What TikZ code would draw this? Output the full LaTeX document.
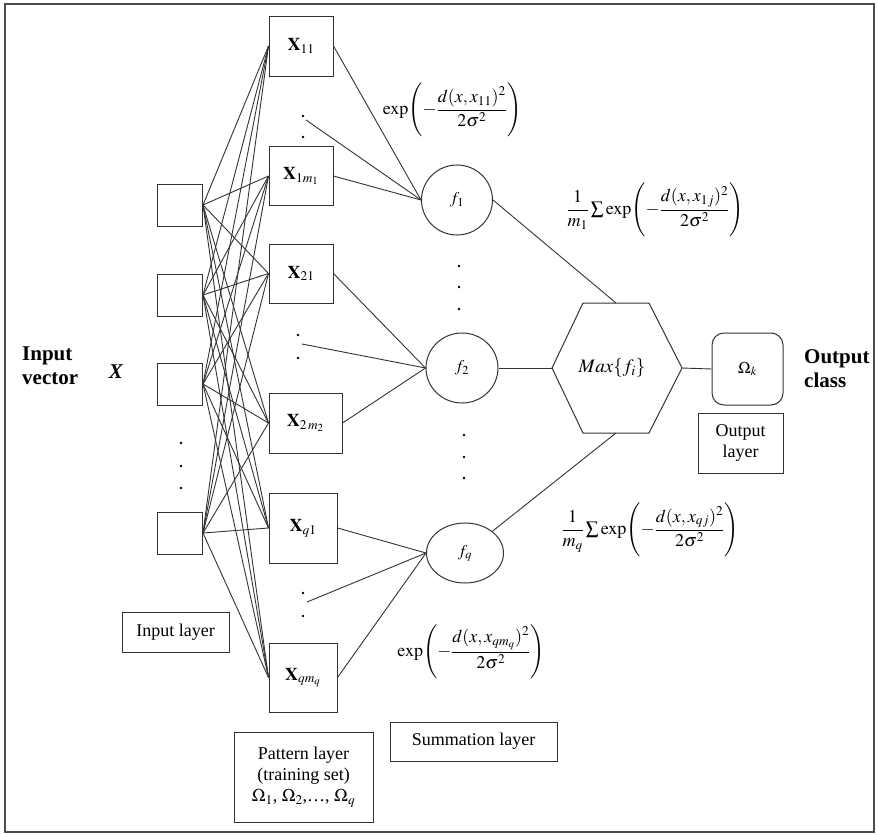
\documentclass[tikz,border=0pt]{standalone}
\usepackage{amsmath}
\usepackage{mathptmx}
\usepackage{fontspec}
\setmainfont{Liberation Serif}
\usetikzlibrary{shapes.geometric}
\newcommand\fsz[2]{\fontsize{#1}{#2}\selectfont}
\begin{document}
\begin{tikzpicture}[x=1pt,y=-1pt,
  conn/.style={draw=black!80,line width=0.9pt},
  inbox/.style={draw=black!80,line width=1pt,minimum width=45,minimum height=42,inner sep=0pt},
  pbox/.style={draw=black!80,line width=1pt,inner sep=0pt,font=\fsz{18}{20}},
  fnode/.style={ellipse,draw=black!80,line width=1pt,inner sep=0pt,font=\fsz{16.5}{18}},
  lbox/.style={draw=black!80,line width=1pt,inner sep=0pt,align=center,font=\fsz{18}{21}},
  formula/.style={inner sep=0pt,font=\fsz{18}{20}},
  dotn/.style={circle,fill=black,inner sep=0pt,minimum size=2.6pt},
  bigl/.style={inner sep=0pt,align=left,font=\fsz{21}{24}\bfseries}]
\useasboundingbox (0,0) rectangle (878,835);
\draw[draw=black!70,line width=1.2pt] (5,4) rectangle (874,832);
% input layer
\node[inbox] (i1) at (180,205) {};
\node[inbox] (i2) at (180,295) {};
\node[inbox] (i3) at (180,384) {};
\node[inbox] (i4) at (180,533) {};
\node[dotn] (id1) at (181,443) {};
\node[dotn] (id2) at (181,466) {};
\node[dotn] (id3) at (181,488) {};
% pattern layer
\node[pbox,minimum width=64,minimum height=60] (p1) at (301,46) {$\mathbf{X}_{11}$};
\node[pbox,minimum width=64,minimum height=59] (p2) at (301,176) {$\mathbf{X}_{1m_1}$};
\node[pbox,minimum width=64,minimum height=59] (p3) at (301,273.5) {$\mathbf{X}_{21}$};
\node[pbox,minimum width=73,minimum height=60] (p4) at (305.5,423) {$\mathbf{X}_{2\,m_2}$};
\node[pbox,minimum width=68,minimum height=70] (p5) at (303,528) {$\mathbf{X}_{q1}$};
\node[pbox,minimum width=68,minimum height=69] (p6) at (303,677.5) {$\mathbf{X}_{qm_q}$};
\node[dotn] (pd1) at (303,116) {};
\node[dotn] (pd2) at (303,137) {};
\node[dotn] (pd3) at (298,335) {};
\node[dotn] (pd4) at (298,358) {};
\node[dotn] (pd5) at (303,593) {};
\node[dotn] (pd6) at (303,616) {};
\coordinate (pl1) at (306,120);
\coordinate (pl2) at (302,344);
\coordinate (pl3) at (307,602);
% summation layer
\node[fnode,minimum width=71,minimum height=70] (f1) at (457,200) {$f_1$};
\node[fnode,minimum width=72,minimum height=70] (f2) at (462,368) {$f_2$};
\node[fnode,minimum width=77,minimum height=60] (fq) at (465,553) {$f_q$};
\node[dotn] (fd1) at (459,266) {};
\node[dotn] (fd2) at (459,287) {};
\node[dotn] (fd3) at (459,309) {};
\node[dotn] (fd4) at (464,435) {};
\node[dotn] (fd5) at (464,457) {};
\node[dotn] (fd6) at (464,478) {};
% hexagon
\coordinate (hl) at (552,368);
\coordinate (htl) at (583,303);
\coordinate (htr) at (649,303);
\coordinate (hr) at (682,368);
\coordinate (hbr) at (649,433);
\coordinate (hbl) at (583,433);
\coordinate (ht) at (616,303);
\coordinate (hb) at (616,433);
\draw[conn,line width=1pt] (hl) -- (htl) -- (htr) -- (hr) -- (hbr) -- (hbl) -- cycle;
\node[formula,font=\fsz{19}{21}] (hex) at (612,368) {$Max\{f_i\}$};
% output
\node[draw=black!80,line width=1pt,rounded corners=12pt,minimum width=71,minimum height=72,inner sep=0pt,font=\fsz{16.5}{18}] (out) at (747.5,369) {$\Omega_k$};
\node[lbox,minimum width=85,minimum height=60] (outl) at (740.5,443) {Output\\layer};
% labels
\node[bigl,anchor=west] (iv) at (22,366) {Input\\vector};
\node[inner sep=0pt,font=\fsz{21}{24}\bfseries\itshape] (xv) at (116,372) {X};
\node[bigl,anchor=west] (oc) at (804,369) {Output\\class};
\node[lbox,minimum width=107,minimum height=40] (inl) at (175.5,632) {Input layer};
\node[lbox,minimum width=139,minimum height=90] (pl) at (303.5,777) {Pattern layer\\(training set)\\$\Omega_1$, $\Omega_2$,\dots, $\Omega_q$};
\node[lbox,minimum width=167,minimum height=39] (sl) at (473.5,741.5) {Summation layer};
% formulas
\node[formula] (F1) at (452,110) {$\exp\Biggl(-\dfrac{d(x,x_{11})^2}{2\sigma^2}\Biggr)$};
\node[formula] (F2) at (655,210) {$\dfrac{1}{m_1}\textstyle\sum\exp\Biggl(-\dfrac{d(x,x_{1j})^2}{2\sigma^2}\Biggr)$};
\node[formula] (F3) at (650,530) {$\dfrac{1}{m_q}\textstyle\sum\exp\Biggl(-\dfrac{d(x,x_{qj})^2}{2\sigma^2}\Biggr)$};
\node[formula] (F4) at (471,652) {$\exp\Biggl(-\dfrac{d(x,x_{qm_q})^2}{2\sigma^2}\Biggr)$};
% connectors input -> pattern
\foreach \i in {i1,i2,i3,i4}{
  \foreach \p in {p1,p2,p3,p4,p5,p6}{
    \draw[conn] (\i.east) -- (\p.west);
  }
}
% pattern -> summation
\draw[conn] (p1.east) -- (f1.west);
\draw[conn] (p2.east) -- (f1.west);
\draw[conn] (pl1) -- (f1.west);
\draw[conn] (p3.east) -- (f2.west);
\draw[conn] (pl2) -- (f2.west);
\draw[conn] (p4.east) -- (f2.west);
\draw[conn] (p5.east) -- (fq.west);
\draw[conn] (pl3) -- (fq.west);
\draw[conn] (p6.east) -- (fq.west);
% summation -> hexagon
\draw[conn] (f1.east) -- (ht);
\draw[conn] (f2.east) -- (hl);
\draw[conn] (fq) -- (hb);
\draw[conn] (hr) -- (out.west);
\end{tikzpicture}
\end{document}
